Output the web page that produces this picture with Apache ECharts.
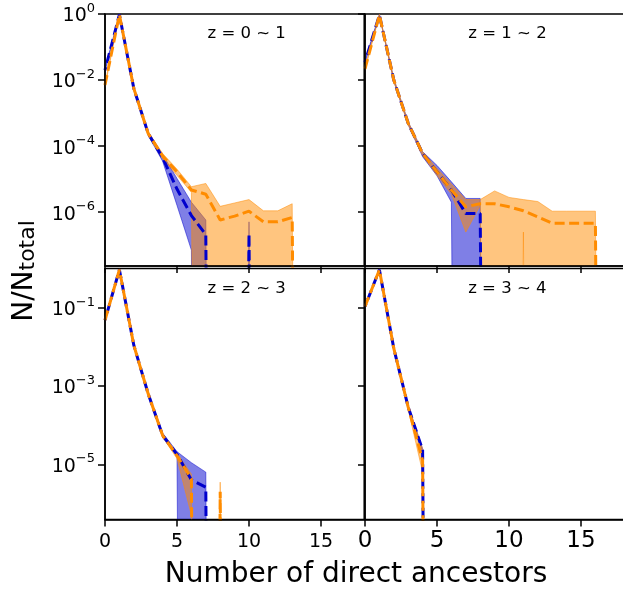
<!DOCTYPE html>
<html><head><meta charset="utf-8">
<script src="https://cdn.jsdelivr.net/npm/echarts@6/dist/echarts.min.js"></script>
<style>html,body{margin:0;padding:0;background:#fff}#c{width:623px;height:591px}</style>
</head><body><div id="c"></div>
<script>
// ---------- data (x = 0,1,2,... number of direct ancestors) ----------
const xTicks = [0, 5, 10, 15];
const yTicksTop = [1, 1e-2, 1e-4, 1e-6];
const yTicksBottom = [1e-1, 1e-3, 1e-5];
const panelTitles = ['z = 0 ~ 1', 'z = 1 ~ 2', 'z = 2 ~ 3', 'z = 3 ~ 4'];
const xAxisTitle = 'Number of direct ancestors';

// panel 1 : z = 0 ~ 1
const p1Blue     = [2.0e-2, 0.955, 5.6e-3, 2.4e-4, 4.5e-5, 5.0e-6, 7.9e-7, 2.1e-7, 0, 0, 2.2e-7, 0];
const p1BlueHi   = [2.2e-2, 0.98, 6.3e-3, 2.7e-4, 5.6e-5, 1.05e-5, 2.0e-6, 5.8e-7, 0, 0, 5.1e-7, 0];
const p1BlueLo   = [1.8e-2, 0.93, 5.0e-3, 2.1e-4, 3.5e-5, 1.6e-6, 7.1e-8, 0, 0, 0, 0, 0];
const p1Orange   = [7.1e-3, 0.955, 5.6e-3, 2.4e-4, 5.0e-5, 1.66e-5, 4.7e-6, 3.5e-6, 5.8e-7, 7.6e-7, 1.07e-6, 5.1e-7, 5.1e-7, 6.9e-7, 0];
const p1OrangeHi = [7.9e-3, 0.98, 6.3e-3, 2.7e-4, 6.0e-5, 2.0e-5, 5.9e-6, 7.4e-6, 1.5e-6, 1.9e-6, 2.4e-6, 1.1e-6, 1.1e-6, 1.8e-6, 0];
const p1OrangeLo = [6.3e-3, 0.93, 5.0e-3, 2.1e-4, 4.2e-5, 1.3e-5, 4.0e-6, 0, 0, 0, 0, 0, 0, 0, 0];

// panel 2 : z = 1 ~ 2
const p2Blue     = [3.5e-2, 0.93, 1.0e-2, 4.9e-4, 6.0e-5, 1.66e-5, 4.7e-6, 9.1e-7, 9.1e-7, 0];
const p2BlueHi   = [4.0e-2, 0.98, 1.1e-2, 5.4e-4, 6.8e-5, 2.6e-5, 8.3e-6, 2.6e-6, 2.6e-6, 0];
const p2BlueLo   = [3.2e-2, 0.91, 9.1e-3, 4.4e-4, 4.8e-5, 1.26e-5, 2.0e-6, 0, 0, 0];
const p2Orange   = [2.2e-2, 0.93, 1.0e-2, 4.9e-4, 6.0e-5, 1.66e-5, 4.7e-6, 1.45e-6, 1.8e-6, 1.8e-6, 1.45e-6, 1.1e-6, 7.2e-7, 4.6e-7, 4.6e-7, 4.6e-7, 4.6e-7, 0];
const p2OrangeHi = [2.5e-2, 0.98, 1.1e-2, 5.4e-4, 6.8e-5, 2.1e-5, 7.1e-6, 2.4e-6, 2.4e-6, 4.4e-6, 2.8e-6, 2.4e-6, 2.1e-6, 1.07e-6, 1.07e-6, 1.07e-6, 1.07e-6, 0];
const p2OrangeLo = [2.0e-2, 0.91, 9.1e-3, 4.4e-4, 5.2e-5, 1.3e-5, 3.5e-6, 2.5e-7, 1.6e-6, 0, 0, 2.5e-7, 0, 0, 0, 0, 0, 0];

// panel 3 : z = 2 ~ 3
const p3Blue     = [4.8e-2, 0.93, 1.1e-2, 6.3e-4, 5.5e-5, 1.8e-5, 4.0e-6, 2.6e-6, 0];
const p3BlueHi   = [5.1e-2, 0.98, 1.2e-2, 6.8e-4, 6.3e-5, 2.1e-5, 1.1e-5, 6.3e-6, 0];
const p3BlueLo   = [4.5e-2, 0.91, 1.0e-2, 5.9e-4, 4.8e-5, 1.6e-5, 0, 0, 0];
const p3Orange   = [4.8e-2, 0.93, 1.1e-2, 6.3e-4, 5.5e-5, 1.66e-5, 4.2e-6, 0, 2.0e-6, 0];
const p3OrangeHi = [5.1e-2, 0.98, 1.2e-2, 6.8e-4, 6.0e-5, 1.9e-5, 5.6e-6, 0, 3.5e-6, 0];
const p3OrangeLo = [4.5e-2, 0.91, 1.0e-2, 5.9e-4, 5.0e-5, 1.4e-5, 5.0e-7, 0, 0, 0];

// panel 4 : z = 3 ~ 4
const p4Blue     = [0.107, 0.93, 9.1e-3, 2.9e-4, 2.3e-5, 0];
const p4BlueHi   = [0.112, 0.98, 1.0e-2, 3.2e-4, 2.5e-5, 0];
const p4BlueLo   = [0.102, 0.91, 8.3e-3, 2.5e-4, 2.0e-5, 0];
const p4Orange   = [0.107, 0.93, 9.1e-3, 2.9e-4, 1.26e-5, 0];
const p4OrangeHi = [0.112, 0.98, 1.0e-2, 3.2e-4, 2.5e-5, 0];
const p4OrangeLo = [0.102, 0.91, 8.3e-3, 2.5e-4, 6.3e-6, 0];

const panels = [
  {blue: p1Blue, blueHi: p1BlueHi, blueLo: p1BlueLo, orange: p1Orange, orangeHi: p1OrangeHi, orangeLo: p1OrangeLo},
  {blue: p2Blue, blueHi: p2BlueHi, blueLo: p2BlueLo, orange: p2Orange, orangeHi: p2OrangeHi, orangeLo: p2OrangeLo},
  {blue: p3Blue, blueHi: p3BlueHi, blueLo: p3BlueLo, orange: p3Orange, orangeHi: p3OrangeHi, orangeLo: p3OrangeLo},
  {blue: p4Blue, blueHi: p4BlueHi, blueLo: p4BlueLo, orange: p4Orange, orangeHi: p4OrangeHi, orangeLo: p4OrangeLo}
];

// ---------- styling / layout ----------
const FONT = 'DejaVu Sans';
const BLUE = '#0000cd', ORANGE = '#ff8c00';
const BLUE_FILL = 'rgba(0,0,205,0.5)', ORANGE_FILL = 'rgba(255,140,0,0.5)';
const FLOOR = 1e-60; // zero counts on a log axis are pushed far below the frame (as matplotlib clips them)
const fl = v => (v > 0 ? v : FLOOR);

const gridBoxes = [
  {left: 105, top: 14, width: 259.2, height: 252},
  {left: 365, top: 14, width: 259.2, height: 252},
  {left: 105, top: 268.5, width: 259.2, height: 251},
  {left: 365, top: 268.5, width: 259.2, height: 251}
];
const yRanges = [
  [Math.pow(10, -7.63), 1], [Math.pow(10, -7.63), 1],
  [Math.pow(10, -6.41), 1], [Math.pow(10, -6.41), 1]
];

const sup = e => (e < 0 ? '\u2212' + (-e) : String(e));

const grid = gridBoxes.map(b => Object.assign({
  show: true, borderColor: '#000', borderWidth: 1.5, backgroundColor: 'transparent',
  outerBoundsMode: 'none', containLabel: false
}, b));

const xAxis = gridBoxes.map((b, i) => ({
  type: 'value', gridIndex: i, min: 0, max: 18, z: 10,
  axisLine: {show: true, onZero: false, lineStyle: {color: '#000', width: 1.5}},
  axisTick: {show: true, inside: false, length: 7, customValues: xTicks, lineStyle: {color: '#000', width: 1.5}},
  axisLabel: {show: i >= 2, customValues: xTicks, color: '#000', fontFamily: FONT,
              fontSize: i === 2 ? 19 : 23, margin: i === 2 ? 13 : 10},
  splitLine: {show: false}
}));

const yAxis = gridBoxes.map((b, i) => ({
  type: 'log', logBase: 10, gridIndex: i, min: yRanges[i][0], max: yRanges[i][1], z: 10,
  axisLine: {show: true, onZero: false, lineStyle: {color: '#000', width: 1.5}},
  axisTick: {show: true, inside: false, length: 7, customValues: i < 2 ? yTicksTop : yTicksBottom,
             lineStyle: {color: '#000', width: 1.5}},
  axisLabel: {
    show: i % 2 === 0, customValues: i < 2 ? yTicksTop : yTicksBottom, margin: 10,
    formatter: v => '{b|10}{s|' + sup(Math.round(Math.log10(v))) + '}',
    rich: {
      b: {fontFamily: FONT, fontSize: 19, color: '#000', lineHeight: 24, verticalAlign: 'bottom'},
      s: {fontFamily: FONT, fontSize: 13, color: '#000', lineHeight: 13, verticalAlign: 'top'}
    }
  },
  splitLine: {show: false}
}));

const series = [];
// shaded band between lower and upper values, drawn as one polygon through the axes' scales
function band(gi, lo, hi, fill) {
  const n = Math.max(lo.length, hi.length);
  series.push({
    type: 'custom', xAxisIndex: gi, yAxisIndex: gi, clip: true, silent: true,
    data: [[0, 1]],
    renderItem: (params, api) => {
      const pts = [];
      for (let i = 0; i < n; i++) pts.push(api.coord([i, fl(hi[i] || 0)]));
      for (let i = n - 1; i >= 0; i--) pts.push(api.coord([i, fl(lo[i] || 0)]));
      return {type: 'polygon', shape: {points: pts},
              style: {fill: fill, stroke: fill, lineWidth: 1, lineJoin: 'miter'}};
    }
  });
}
function dashed(gi, vals, color, offset) {
  series.push({type: 'line', xAxisIndex: gi, yAxisIndex: gi, symbol: 'none', silent: true,
               data: vals.map((v, i) => [i, fl(v)]),
               lineStyle: {color: color, width: 3, type: [10, 4.5], dashOffset: offset, cap: 'butt'}});
}
panels.forEach((p, gi) => {
  band(gi, p.blueLo, p.blueHi, BLUE_FILL);
  band(gi, p.orangeLo, p.orangeHi, ORANGE_FILL);
});
panels.forEach((p, gi) => {
  dashed(gi, p.blue, BLUE, 7);
  dashed(gi, p.orange, ORANGE, 0);
});

const titlePos = [[246.7, 33.3], [507.5, 33.3], [246.7, 288.3], [507.3, 288.3]];
const graphic = panelTitles.map((t, i) => ({
  type: 'text', x: titlePos[i][0], y: titlePos[i][1], z: 20,
  style: {text: t, fill: '#000', font: '16.5px "' + FONT + '"', align: 'center', verticalAlign: 'middle'}
}));
graphic.push({
  type: 'text', x: 356, y: 575, z: 20,
  style: {text: xAxisTitle, fill: '#000', font: '28px "' + FONT + '"', align: 'center', verticalAlign: 'middle'}
});
graphic.push({
  type: 'text', x: 22, y: 271, rotation: Math.PI / 2, z: 20,
  style: {
    text: '{n|N/N}{t|total}', align: 'center', verticalAlign: 'middle',
    rich: {
      n: {fontFamily: FONT, fontSize: 28, fill: '#000', lineHeight: 34, verticalAlign: 'bottom'},
      t: {fontFamily: FONT, fontSize: 22, fill: '#000', lineHeight: 22, verticalAlign: 'bottom'}
    }
  }
});

const chart = echarts.init(document.getElementById('c'), null, {renderer: 'canvas'});
chart.setOption({animation: false, grid, xAxis, yAxis, series, graphic});
</script></body></html>
